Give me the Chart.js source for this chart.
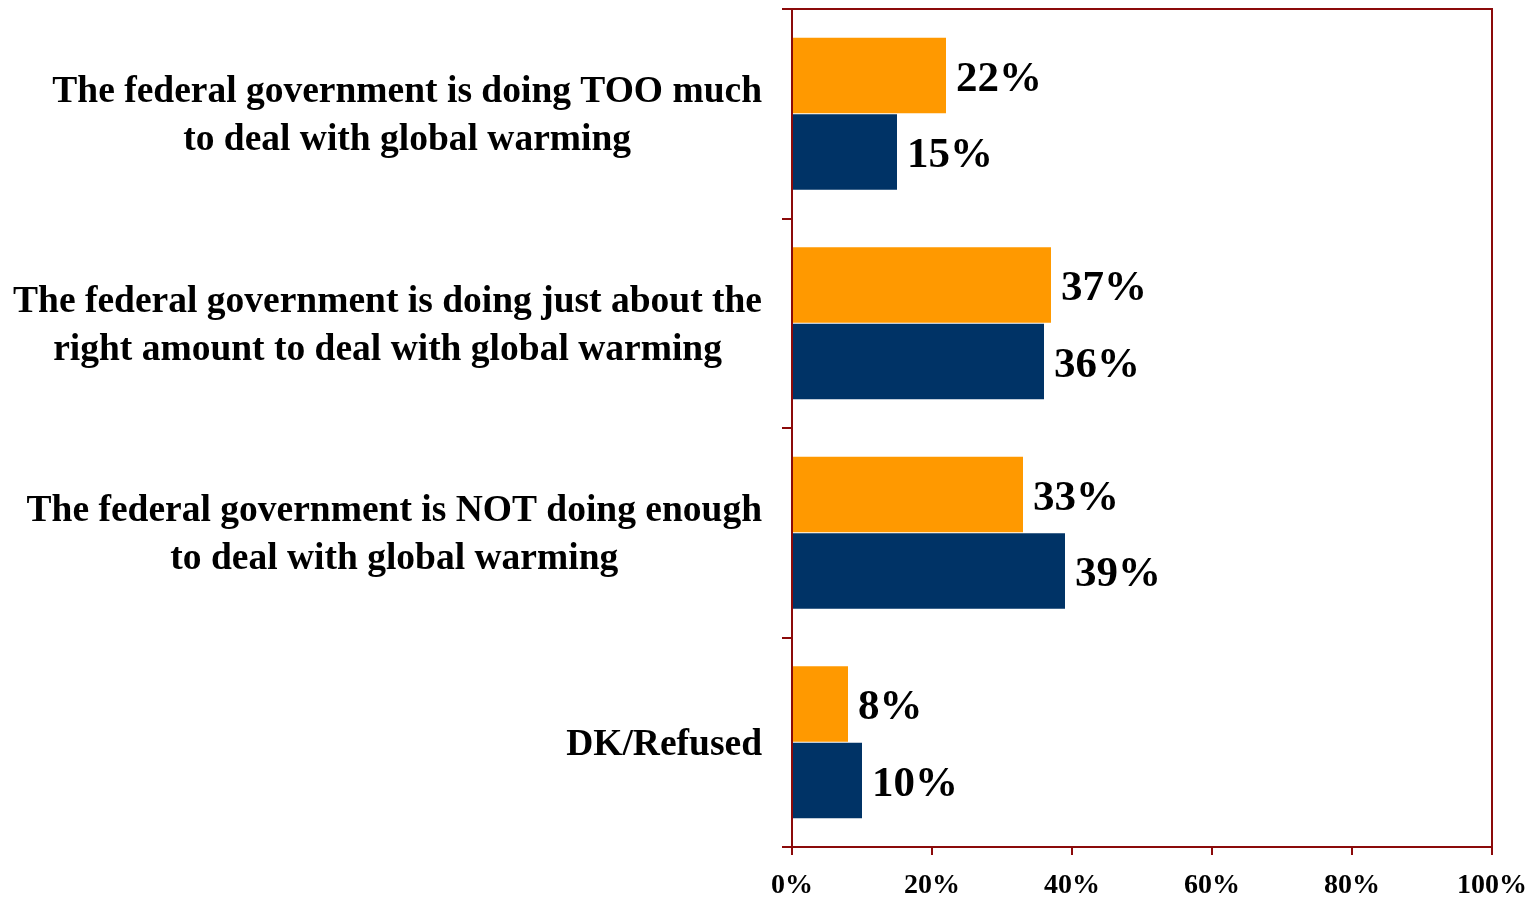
<!DOCTYPE html>
<html>
<head>
<meta charset="utf-8">
<script src="https://cdn.jsdelivr.net/npm/chart.js@4.4.0/dist/chart.umd.min.js"></script>
<style>
html, body { margin: 0; padding: 0; background: #fff; }
</style>
</head>
<body>
<canvas id="chart" width="1532" height="899"></canvas>
<script>
// Données du graphique
const categories = [
    ['The federal government is doing TOO much', 'to deal with global warming'],
    ['The federal government is doing just about the', 'right amount to deal with global warming'],
    ['The federal government is NOT doing enough', 'to deal with global warming'],
    ['DK/Refused']
];
const orangeValues = [22, 37, 33, 8];
const navyValues = [15, 36, 39, 10];
const xTickValues = [0, 20, 40, 60, 80, 100];

const axisColor = '#8b0a0a';
const serif = '"Liberation Serif", "Times New Roman", serif';

// Étiquettes des catégories (centrées ligne par ligne, bloc aligné à droite)
const categoryLabels = {
    id: 'categoryLabels',
    afterDraw(chart) {
        const ctx = chart.ctx;
        const yScale = chart.scales.y;
        const rightEdge = chart.chartArea.left - 30;
        const lineHeight = 48;
        ctx.save();
        ctx.font = 'bold 37.5px ' + serif;
        ctx.fillStyle = '#000';
        ctx.textAlign = 'center';
        ctx.textBaseline = 'middle';
        categories.forEach((lines, i) => {
            const yc = yScale.getPixelForValue(i);
            const maxW = Math.max(...lines.map(l => ctx.measureText(l).width));
            const cx = rightEdge - maxW / 2;
            lines.forEach((line, j) => {
                ctx.fillText(line, cx, yc + (j - (lines.length - 1) / 2) * lineHeight + 3);
            });
        });
        ctx.restore();
    }
};

// Valeurs au bout des barres + cadre haut/droite
const valueLabels = {
    id: 'valueLabels',
    afterDatasetsDraw(chart) {
        const ctx = chart.ctx;
        ctx.save();
        ctx.font = 'bold 43px ' + serif;
        ctx.fillStyle = '#000';
        ctx.textAlign = 'left';
        ctx.textBaseline = 'middle';
        chart.data.datasets.forEach((ds, d) => {
            chart.getDatasetMeta(d).data.forEach((bar, i) => {
                ctx.fillText(ds.data[i] + '%', bar.x + 10, bar.y + 4);
            });
        });

        const a = chart.chartArea;
        ctx.strokeStyle = axisColor;
        ctx.lineWidth = 2;
        ctx.beginPath();
        ctx.moveTo(a.left, a.top);
        ctx.lineTo(a.right, a.top);
        ctx.lineTo(a.right, a.bottom);
        ctx.stroke();
        ctx.restore();
    }
};

new Chart(document.getElementById('chart'), {
    type: 'bar',
    data: {
        labels: categories,
        datasets: [{
            label: 'Series 1',
            data: orangeValues,
            backgroundColor: '#ff9900',
            categoryPercentage: 0.73,
            barPercentage: 0.985
        }, {
            label: 'Series 2',
            data: navyValues,
            backgroundColor: '#003366',
            categoryPercentage: 0.73,
            barPercentage: 0.985
        }]
    },
    options: {
        indexAxis: 'y',
        responsive: false,
        animation: false,
        layout: { padding: { left: 0, right: 40, top: 9, bottom: 0 } },
        plugins: {
            legend: { display: false },
            tooltip: { enabled: false }
        },
        scales: {
            x: {
                min: 0,
                max: 100,
                afterBuildTicks(scale) {
                    scale.ticks = xTickValues.map(v => ({ value: v }));
                },
                afterFit(scale) {
                    scale.height = 52;
                    scale.paddingLeft = 0;
                    scale.paddingRight = 0;
                },
                grid: { drawOnChartArea: false, tickLength: 8, color: axisColor, lineWidth: 2 },
                border: { color: axisColor, width: 2 },
                ticks: {
                    padding: 14,
                    color: '#000',
                    font: { family: serif, size: 28, weight: 'bold' },
                    callback: v => v + '%'
                }
            },
            y: {
                offset: true,
                afterFit(scale) { scale.width = 792; },
                grid: { offset: true, drawOnChartArea: false, tickLength: 10, color: axisColor, lineWidth: 2 },
                border: { color: axisColor, width: 2 },
                ticks: { display: false }
            }
        }
    },
    plugins: [categoryLabels, valueLabels]
});
</script>
</body>
</html>
